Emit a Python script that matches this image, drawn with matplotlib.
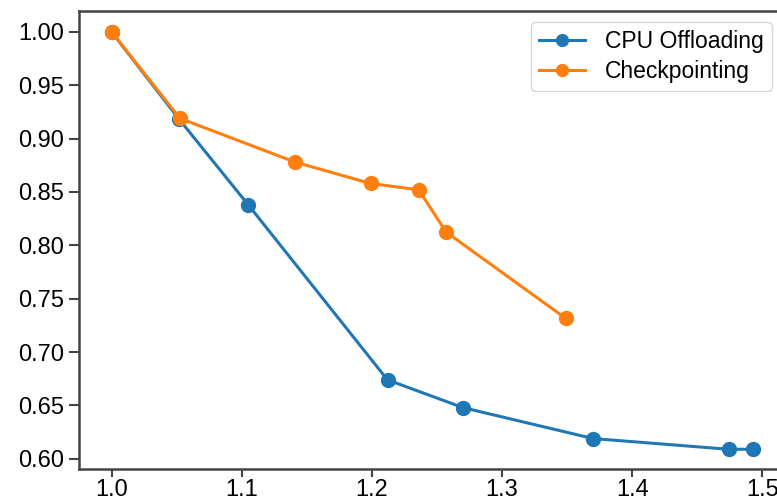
import matplotlib.pyplot as plt

plt.rcParams['font.family'] = ['Liberation Sans', 'DejaVu Sans']

# CPU Offloading series
cpu_x = [1.0, 1.052, 1.105, 1.212, 1.270, 1.370, 1.474, 1.493]
cpu_y = [1.0, 0.918, 0.838, 0.674, 0.648, 0.619, 0.609, 0.609]

# Checkpointing series
ckpt_x = [1.0, 1.0525, 1.141, 1.199, 1.236, 1.257, 1.349]
ckpt_y = [1.0, 0.919, 0.878, 0.858, 0.852, 0.8125, 0.7315]

xticks = [1.0, 1.1, 1.2, 1.3, 1.4, 1.5]
yticks = [0.60, 0.65, 0.70, 0.75, 0.80, 0.85, 0.90, 0.95, 1.00]

fig = plt.figure(figsize=(7.77, 5.03), dpi=100)
ax1 = fig.add_axes([0.1017, 0.0676, 0.913, 0.9104])

ax1.plot(cpu_x, cpu_y, marker='o', color='#1f77b4', linewidth=2.2, markersize=10, label='CPU Offloading')
ax1.plot(ckpt_x, ckpt_y, marker='o', color='#ff7f0e', linewidth=2.2, markersize=10, label='Checkpointing')

ax1.set_xlim(0.975, 1.52)
ax1.set_ylim(0.5905, 1.0195)
ax1.set_xticks(xticks)
ax1.set_xticklabels(['%.1f' % t for t in xticks])
ax1.set_yticks(yticks)
ax1.set_yticklabels(['%.2f' % t for t in yticks])
ax1.tick_params(labelsize=17, length=7, width=1.5, colors='#444444', labelcolor='black', pad=4)
ax1.tick_params(axis='x', length=6, pad=1)
for s in ax1.spines.values():
    s.set_linewidth(1.8)
    s.set_color('#444444')

# legend sits at the upper right of the visible area (axes are cropped on the right)
ax1.legend(loc='upper right', bbox_to_anchor=(772 / 777, 1 - 22 / 503),
           bbox_transform=fig.transFigure, fontsize=16.5, borderaxespad=0,
           handlelength=2.0, handletextpad=0.9, labelspacing=0.3,
           borderpad=0.35, markerscale=0.85)

plt.savefig('out.png', dpi=100)
